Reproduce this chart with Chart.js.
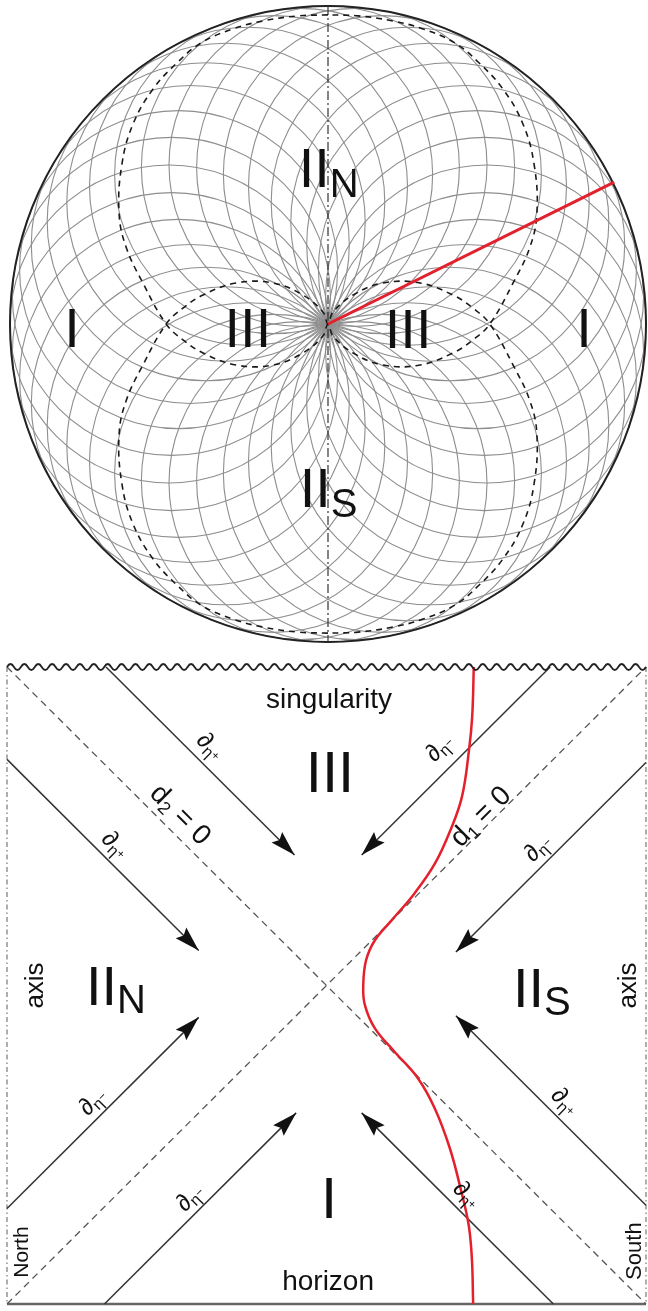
<!DOCTYPE html>
<html>
<head>
<meta charset="utf-8">
<script src="https://cdn.jsdelivr.net/npm/chart.js@4/dist/chart.umd.min.js"></script>
<style>
    html, body { margin: 0; padding: 0; background: #fff; }
    body { width: 648px; height: 1311px; position: relative; overflow: hidden; }
    canvas { position: absolute; left: 0; display: block; }
    #sphere { top: 0; }
    #penrose { top: 650px; }
</style>
</head>
<body>
<canvas id="sphere" width="648" height="650"></canvas>
<canvas id="penrose" width="648" height="661"></canvas>
<script>
/* ============================================
   Sphere view (top) + conformal diagram (bottom)
   ============================================ */

/* ---------- Data: sphere view ---------- */

// directions (deg) of the grey circles' centres; every circle passes through the pole
const gridAngles = [0, 10, 20, 30, 40, 50, 60, 70, 80, 90, 100, 110, 120, 130, 140, 150, 160, 170,
    180, 190, 200, 210, 220, 230, 240, 250, 260, 270, 280, 290, 300, 310, 320, 330, 340, 350];
const gridRadius = 0.5;          // in units of the outer radius
const rimRadius = 1;

// upper dashed curve, right half: pole -> crossing -> top
const dashX = [0, 0.016, 0.079, 0.173, 0.289, 0.393, 0.456, 0.509, 0.582, 0.635, 0.657, 0.648,
    0.613, 0.55, 0.472, 0.399, 0.299, 0.204, 0.094, 0];
const dashY = [0, -0.038, -0.091, -0.129, -0.129, -0.091, -0.05, 0, 0.129, 0.242, 0.349, 0.503,
    0.629, 0.739, 0.824, 0.884, 0.928, 0.953, 0.969, 0.972];

// red ray from the pole to the rim
const rayX = [0, 0.9];
const rayY = [0, 0.446];

/* ---------- Data: conformal diagram ---------- */

const redX = [0.461, 0.456, 0.446, 0.424, 0.388, 0.340, 0.276, 0.205, 0.152, 0.124, 0.115, 0.12,
    0.151, 0.213, 0.286, 0.339, 0.386, 0.422, 0.445, 0.455, 0.459];
const redY = [1, 0.844, 0.739, 0.593, 0.488, 0.384, 0.29, 0.206, 0.143, 0.08, 0.0, -0.061,
    -0.134, -0.208, -0.291, -0.386, -0.511, -0.647, -0.752, -0.857, -1];

// null arrows (tail -> head)
const arrowFromX = [-0.69, -1, 0.70, 1, -1, -0.695, 0.71, 1];
const arrowFromY = [1, 0.71, 1, 0.70, -0.70, -1, -1, -0.69];
const arrowToX = [-0.10, -0.40, 0.11, 0.405, -0.40, -0.095, 0.11, 0.405];
const arrowToY = [0.41, 0.11, 0.41, 0.105, -0.10, -0.40, -0.40, -0.095];

// d2 = 0 and d1 = 0
const diagX = [[-1, 1], [-1, 1]];
const diagY = [[1, -1], [-1, 1]];

/* ---------- Labels ---------- */

const sphereLabels = [
    { x: 0.002, y: 0.432, parts: [['II', 56], ['N', 40, 10]] },
    { x: 0.002, y: -0.574, parts: [['II', 56], ['S', 40, 10]] },
    { x: -0.805, y: -0.071, parts: [['I', 56]] },
    { x: 0.805, y: -0.071, parts: [['I', 56]] },
    { x: -0.252, y: -0.071, parts: [['III', 56]] },
    { x: 0.252, y: -0.074, parts: [['III', 56]] },
];

const penroseLabels = [
    { x: 0.008, y: 0.871, parts: [['singularity', 28]] },
    { x: 0.011, y: 0.608, parts: [['III', 58]] },
    { x: -0.659, y: -0.061, parts: [['II', 56], ['N', 40, 8]] },
    { x: 0.674, y: -0.068, parts: [['II', 56], ['S', 40, 8]] },
    { x: 0.008, y: -0.730, parts: [['I', 58]] },
    { x: 0.005, y: -0.956, parts: [['horizon', 28]] },
    { x: -0.909, y: 0, rot: -90, mid: true, parts: [['axis', 26]] },
    { x: 0.947, y: 0, rot: -90, mid: true, parts: [['axis', 26]] },
    { x: -0.953, y: -0.837, rot: -90, mid: true, parts: [['North', 21]] },
    { x: 0.966, y: -0.834, rot: -90, mid: true, parts: [['South', 22]] },
    { x: -0.459, y: 0.535, rot: 45, mid: true, parts: [['d', 28], ['2', 18, 7], [' = 0', 28]] },
    { x: 0.484, y: 0.529, rot: -45, mid: true, parts: [['d', 28], ['1', 18, 7], [' = 0', 28]] },
    { x: -0.365, y: 0.75, rot: 45, mid: true, parts: [['\u2202', 24], ['\u03b7', 16, 6], ['+', 12, 3]] },
    { x: -0.662, y: 0.441, rot: 45, mid: true, parts: [['\u2202', 24], ['\u03b7', 16, 6], ['+', 12, 3]] },
    { x: 0.354, y: 0.745, rot: -45, mid: true, parts: [['\u2202', 24], ['\u03b7', 16, 6], ['\u2212', 12, 3]] },
    { x: 0.662, y: 0.431, rot: -45, mid: true, parts: [['\u2202', 24], ['\u03b7', 16, 6], ['\u2212', 12, 3]] },
    { x: -0.731, y: -0.366, rot: -45, mid: true, parts: [['\u2202', 24], ['\u03b7', 16, 6], ['\u2212', 12, 3]] },
    { x: -0.427, y: -0.667, rot: -45, mid: true, parts: [['\u2202', 24], ['\u03b7', 16, 6], ['\u2212', 12, 3]] },
    { x: 0.438, y: -0.658, rot: 45, mid: true, parts: [['\u2202', 24], ['\u03b7', 16, 6], ['+', 12, 3]] },
    { x: 0.745, y: -0.365, rot: 45, mid: true, parts: [['\u2202', 24], ['\u03b7', 16, 6], ['+', 12, 3]] },
];

/* ---------- Helpers ---------- */

const FONT = '"Liberation Sans", Arial, sans-serif';
const RAD = Math.PI / 180;
const toPoints = (xs, ys) => xs.map((x, i) => ({ x, y: ys[i] }));

function pxLen(chart, v) {
    const s = chart.scales.x;
    return Math.abs(s.getPixelForValue(v) - s.getPixelForValue(0));
}

function labelPlugin(labels) {
    return {
        id: 'labels',
        afterDatasetsDraw(chart) {
            const { ctx, scales: { x, y } } = chart;
            labels.forEach(lab => {
                ctx.save();
                ctx.translate(x.getPixelForValue(lab.x), y.getPixelForValue(lab.y));
                ctx.rotate((lab.rot || 0) * RAD);
                ctx.fillStyle = '#111';
                ctx.textBaseline = lab.mid ? 'middle' : 'alphabetic';
                let width = 0;
                lab.parts.forEach(([t, size]) => {
                    ctx.font = `${size}px ${FONT}`;
                    width += ctx.measureText(t).width;
                });
                let cx = -width / 2;
                lab.parts.forEach(([t, size, dy = 0]) => {
                    ctx.font = `${size}px ${FONT}`;
                    ctx.fillText(t, cx, dy);
                    cx += ctx.measureText(t).width;
                });
                ctx.restore();
            });
        },
    };
}

// grey circles + rim, centred and sized through the chart's scales
const circlePlugin = {
    id: 'circles',
    beforeDatasetsDraw(chart) {
        const { ctx, scales: { x, y } } = chart;
        const r = pxLen(chart, gridRadius);
        ctx.save();
        ctx.strokeStyle = '#8e8e8e';
        ctx.lineWidth = 1.1;
        gridAngles.forEach(a => {
            ctx.beginPath();
            ctx.arc(x.getPixelForValue(gridRadius * Math.cos(a * RAD)),
                    y.getPixelForValue(gridRadius * Math.sin(a * RAD)), r, 0, 2 * Math.PI);
            ctx.stroke();
        });
        ctx.beginPath();
        ctx.arc(x.getPixelForValue(0), y.getPixelForValue(0), pxLen(chart, rimRadius), 0, 2 * Math.PI);
        ctx.strokeStyle = '#222';
        ctx.lineWidth = 2;
        ctx.stroke();
        ctx.restore();
    },
};

function drawArrowHead(ctx, from, to) {
    const dx = to.x - from.x, dy = to.y - from.y;
    const len = Math.hypot(dx, dy);
    const ux = dx / len, uy = dy / len;
    const L = 25, W = 7.5;
    ctx.beginPath();
    ctx.moveTo(to.x, to.y);
    ctx.lineTo(to.x - ux * L - uy * W, to.y - uy * L + ux * W);
    ctx.lineTo(to.x - ux * L * 0.85, to.y - uy * L * 0.85);
    ctx.lineTo(to.x - ux * L + uy * W, to.y - uy * L - ux * W);
    ctx.closePath();
    ctx.fillStyle = '#111';
    ctx.fill();
}

function drawWave(ctx, a, b) {
    const period = 14, amp = 3;
    const n = Math.round((b.x - a.x) / period);
    const step = (b.x - a.x) / n;
    ctx.beginPath();
    ctx.moveTo(a.x, a.y);
    for (let i = 0; i < n; i++) {
        const x0 = a.x + i * step;
        ctx.quadraticCurveTo(x0 + step / 4, a.y - 2 * amp, x0 + step / 2, a.y);
        ctx.quadraticCurveTo(x0 + 3 * step / 4, a.y + 2 * amp, x0 + step, a.y);
    }
    ctx.strokeStyle = '#222';
    ctx.lineWidth = 1.8;
    ctx.stroke();
}

const penroseDecor = {
    id: 'penroseDecor',
    afterDatasetsDraw(chart) {
        const ctx = chart.ctx;
        ctx.save();
        chart.data.datasets.forEach((ds, i) => {
            const pts = chart.getDatasetMeta(i).data;
            if (ds.arrow) drawArrowHead(ctx, pts[0], pts[1]);
            if (ds.wavy) drawWave(ctx, pts[0], pts[1]);
        });
        ctx.restore();
    },
};

const baseOptions = (padding) => ({
    responsive: false,
    animation: false,
    events: [],
    layout: { autoPadding: false, padding },
    scales: {
        x: { type: 'linear', min: -1, max: 1, display: false },
        y: { type: 'linear', min: -1, max: 1, display: false },
    },
    plugins: { legend: { display: false }, tooltip: { enabled: false } },
});

const lineSet = (data, extra) => Object.assign({
    data, showLine: true, pointRadius: 0, pointHoverRadius: 0, clip: false,
}, extra);

/* ---------- Top chart ---------- */

const upperDash = toPoints(dashX.slice().reverse().map(v => -v).concat(dashX.slice(1)),
    dashY.slice().reverse().concat(dashY.slice(1)));
const lowerDash = upperDash.map(p => ({ x: p.x, y: -p.y }));

new Chart(document.getElementById('sphere'), {
    type: 'scatter',
    data: {
        datasets: [
            lineSet(toPoints(rayX, rayY), { borderColor: '#e3202b', borderWidth: 3 }),
            lineSet(upperDash, { borderColor: '#1a1a1a', borderWidth: 1.6, borderDash: [6, 5], tension: 0.4 }),
            lineSet(lowerDash, { borderColor: '#1a1a1a', borderWidth: 1.6, borderDash: [6, 5], tension: 0.4 }),
            lineSet([{ x: 0, y: 1 }, { x: 0, y: -1 }], { borderColor: '#333', borderWidth: 1.2, borderDash: [9, 3, 2, 3] }),
        ],
    },
    options: baseOptions({ left: 10, right: 2, top: 6, bottom: 8 }),
    plugins: [circlePlugin, labelPlugin(sphereLabels)],
});

/* ---------- Bottom chart ---------- */

const arrowSets = arrowFromX.map((x, i) => lineSet(
    [{ x, y: arrowFromY[i] }, { x: arrowToX[i], y: arrowToY[i] }],
    { borderColor: '#333', borderWidth: 1.5, arrow: true }
));

new Chart(document.getElementById('penrose'), {
    type: 'scatter',
    data: {
        datasets: [
            lineSet(toPoints(redX, redY), { borderColor: '#e3202b', borderWidth: 2.5, tension: 0.4 }),
            ...arrowSets,
            lineSet(toPoints(diagX[0], diagY[0]), { borderColor: '#555', borderWidth: 1.3, borderDash: [7, 5] }),
            lineSet(toPoints(diagX[1], diagY[1]), { borderColor: '#555', borderWidth: 1.3, borderDash: [7, 5] }),
            lineSet([{ x: -1, y: 1 }, { x: 1, y: 1 }], { borderWidth: 0, wavy: true }),
            lineSet([{ x: -1, y: -1 }, { x: 1, y: -1 }], { borderColor: '#666', borderWidth: 2.5 }),
            lineSet([{ x: -1, y: 1 }, { x: -1, y: -1 }], { borderColor: '#9a9a9a', borderWidth: 1.6, borderDash: [5, 3, 1.5, 3] }),
            lineSet([{ x: 1, y: 1 }, { x: 1, y: -1 }], { borderColor: '#9a9a9a', borderWidth: 1.6, borderDash: [5, 3, 1.5, 3] }),
        ],
    },
    options: baseOptions({ left: 7, right: 2, top: 17, bottom: 7 }),
    plugins: [penroseDecor, labelPlugin(penroseLabels)],
});
</script>
</body>
</html>
